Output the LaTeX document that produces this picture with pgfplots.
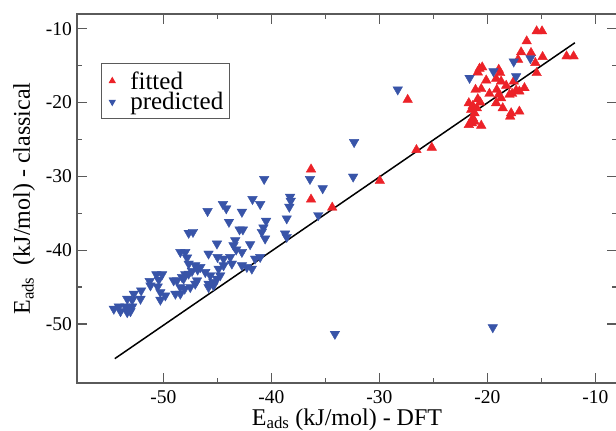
\documentclass[border=0pt]{standalone}
\usepackage{fontspec}
\setmainfont{Liberation Serif}
\usepackage{pgfplots}
\pgfplotsset{compat=1.18}
\definecolor{fitred}{RGB}{236,34,40}
\definecolor{predblue}{RGB}{56,84,168}
\definecolor{axgray}{RGB}{90,90,90}

\begin{document}
\begin{tikzpicture}
\begin{axis}[
    at={(0pt,0pt)}, anchor=south west,
    scale only axis, width=540pt, height=369pt,
    xmin=-58, xmax=-8, ymin=-58, ymax=-8,
    xtick={-50,-40,-30,-20,-10},
    ytick={-50,-40,-30,-20,-10},
    minor tick num=1,
    tick align=inside, tick pos=both,
    major tick length=10pt, minor tick length=5pt,
    axis line style={draw=axgray, line width=1.2pt},
    every tick/.style={draw=axgray, line width=1.2pt},
    /pgf/number format/assume math mode=true,
    tick label style={font=\fontsize{19.5}{22}\selectfont},
    xticklabel style={inner sep=0pt, yshift=-7.5pt},
    yticklabel style={inner sep=0pt, xshift=-5pt},
    xlabel={E\textsubscript{ads} (kJ/mol) - DFT},
    ylabel={E\textsubscript{ads}\ \ (kJ/mol) - classical},
    every axis x label/.style={at={(axis description cs:0.5,0)}, anchor=base, yshift=-42pt,
        font=\fontsize{24}{28}\selectfont},
    every axis y label/.style={at={(axis description cs:0,0.5)}, anchor=center, xshift=-53pt, rotate=90,
        font=\fontsize{24}{28}\selectfont},
    legend style={
        at={(axis description cs:0.044,0.866)}, anchor=north west,
        draw=axgray, line width=1pt,
        font=\fontsize{25}{20}\selectfont,
        inner xsep=3pt, inner ysep=6.5pt,
        row sep=0pt,
        nodes={inner xsep=3pt, inner ysep=1pt},
        cells={anchor=west},
    },
    legend image code/.code={
        \path[draw=none] (0pt,0pt) -- (23pt,0pt);
        \draw[#1, only marks, mark size=3.3pt] plot coordinates {(8pt,0pt)};
    },
]
% fitted
\addplot[only marks, mark=triangle*, mark size=5.5pt, color=fitred] table {
x y
-15.44 -10.33
-14.94 -10.33
-16.36 -11.69
-16.88 -13.18
-15.96 -13.27
-17.16 -14.18
-14.89 -13.81
-12.67 -13.73
-12.02 -13.73
-15.56 -14.63
-15.44 -15.99
-20.73 -15.40
-20.48 -15.22
-20.89 -15.90
-18.95 -15.54
-18.82 -15.99
-20.11 -16.99
-19.19 -16.76
-18.73 -17.13
-18.26 -17.71
-17.56 -17.13
-21.10 -18.26
-20.57 -18.16
-19.81 -18.80
-19.13 -18.26
-18.95 -18.94
-18.73 -19.39
-17.96 -18.94
-17.71 -18.80
-17.34 -18.35
-17.04 -18.49
-16.57 -18.03
-21.72 -20.07
-21.35 -20.44
-20.89 -19.52
-20.66 -19.99
-19.19 -20.07
-18.58 -20.75
-21.50 -20.98
-21.19 -21.43
-20.98 -20.75
-17.80 -21.43
-17.89 -21.89
-17.04 -21.21
-21.35 -22.11
-21.19 -22.57
-21.72 -23.02
-21.44 -22.79
-20.57 -23.12
-25.15 -26.10
-26.57 -26.42
-29.96 -30.60
-34.37 -34.22
-36.33 -29.05
-36.33 -33.13
-27.38 -19.62
};
\addlegendentry{fitted}
% predicted
\addplot[only marks, mark=triangle*, mark size=5.5pt, mark options={rotate=180}, color=predblue] table {
x y
-54.59 -47.96
-54.13 -47.65
-53.97 -48.29
-53.35 -46.60
-53.51 -47.65
-53.20 -47.74
-52.89 -47.65
-53.05 -48.29
-53.35 -48.42
-52.74 -45.92
-52.89 -46.73
-52.06 -45.47
-52.12 -46.60
-51.27 -44.20
-51.20 -44.79
-50.65 -43.29
-50.12 -43.29
-50.43 -44.01
-50.53 -44.93
-50.28 -45.70
-49.82 -46.15
-50.28 -46.73
-49.05 -44.11
-48.74 -44.11
-48.27 -43.66
-47.97 -43.29
-47.35 -42.84
-46.83 -42.65
-48.89 -45.92
-48.43 -45.92
-48.03 -45.24
-47.51 -45.02
-47.05 -44.56
-47.97 -40.26
-47.81 -41.02
-47.66 -41.84
-47.66 -37.67
-47.26 -37.54
-48.43 -40.26
-45.91 -34.72
-44.49 -33.77
-44.18 -34.35
-42.73 -34.82
-43.93 -36.18
-42.95 -37.21
-42.64 -37.21
-45.04 -39.12
-43.35 -38.67
-43.51 -39.35
-43.26 -39.93
-41.97 -39.21
-42.73 -40.26
-41.51 -41.16
-41.04 -40.94
-45.82 -40.48
-44.99 -40.94
-44.43 -41.16
-43.81 -40.94
-43.66 -41.84
-44.43 -42.07
-44.89 -42.52
-42.73 -42.07
-42.27 -42.30
-41.81 -42.52
-47.05 -42.07
-46.58 -42.30
-46.12 -42.98
-45.66 -43.43
-45.36 -44.34
-45.82 -44.56
-47.66 -43.20
-48.13 -43.88
-46.89 -44.11
-44.74 -43.43
-45.04 -43.88
-48.43 -45.02
-45.82 -45.02
-45.36 -44.79
-40.67 -30.37
-38.27 -32.78
-38.21 -33.32
-38.34 -34.14
-41.75 -33.09
-41.04 -33.77
-38.58 -35.71
-40.49 -36.04
-40.74 -36.94
-40.89 -37.54
-40.58 -38.44
-38.73 -37.76
-38.58 -38.22
-36.43 -30.37
-35.25 -31.63
-35.66 -35.27
-32.43 -30.05
-32.34 -25.37
-34.12 -51.36
-19.50 -50.46
-28.30 -18.24
-21.65 -16.67
-19.44 -15.77
-17.56 -14.45
-16.02 -14.00
-17.34 -16.45
};
\addlegendentry{predicted}
\addplot[black, line width=1.5pt, forget plot] coordinates {(-54.5,-54.7) (-11.9,-11.9)};
\end{axis}
\pgfresetboundingbox
\useasboundingbox (-77pt,-48pt) rectangle (539pt,383pt);
\end{tikzpicture}
\end{document}
